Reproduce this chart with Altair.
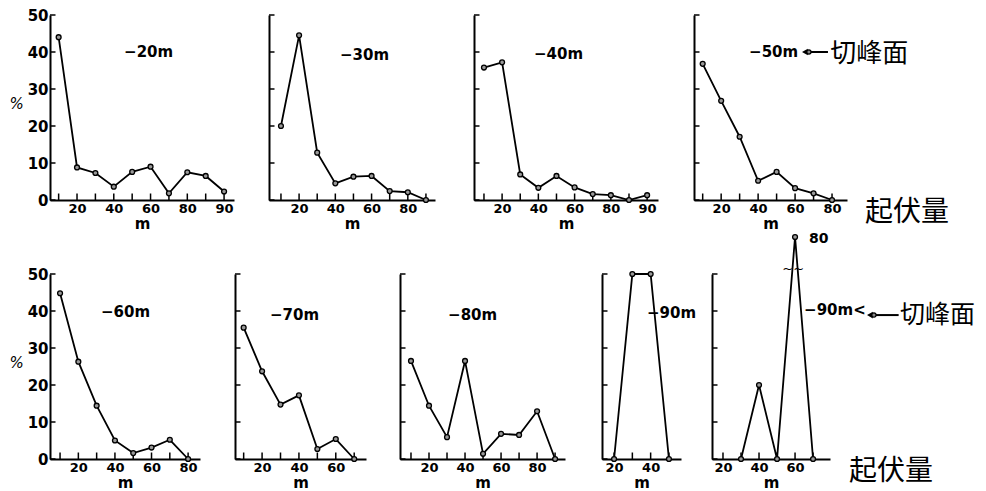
import altair as alt
import pandas as pd

# ---------------- data ----------------
titles = ["−20m", "−30m", "−40m", "−50m", "−60m", "−70m", "−80m", "−90m", "−90m<"]

x_20 = [10, 20, 30, 40, 50, 60, 70, 80, 90, 100]
p_20 = [44.0, 8.8, 7.3, 3.6, 7.6, 9.0, 1.8, 7.5, 6.5, 2.3]
x_30 = [10, 20, 30, 40, 50, 60, 70, 80, 90]
p_30 = [20.0, 44.5, 12.8, 4.5, 6.3, 6.5, 2.4, 2.1, 0.0]
x_40 = [10, 20, 30, 40, 50, 60, 70, 80, 90, 100]
p_40 = [35.8, 37.2, 6.9, 3.3, 6.5, 3.4, 1.6, 1.3, 0.0, 1.3]
x_50 = [10, 20, 30, 40, 50, 60, 70, 80]
p_50 = [36.8, 26.8, 17.1, 5.2, 7.6, 3.2, 1.8, 0.0]
x_60 = [10, 20, 30, 40, 50, 60, 70, 80]
p_60 = [44.8, 26.3, 14.4, 5.0, 1.6, 3.1, 5.2, 0.0]
x_70 = [10, 20, 30, 40, 50, 60, 70]
p_70 = [35.5, 23.7, 14.7, 17.2, 2.7, 5.4, 0.0]
x_80 = [10, 20, 30, 40, 50, 60, 70, 80, 90]
p_80 = [26.5, 14.4, 5.9, 26.5, 1.4, 6.8, 6.5, 12.9, 0.0]
x_90 = [20, 30, 40, 50]
p_90 = [0.0, 50.0, 50.0, 0.0]
x_90p = [30, 40, 50, 60, 70]
p_90p = [0.0, 20.0, 0.0, 80.0, 0.0]

y_ticks = [0, 10, 20, 30, 40, 50]

tick_20 = [10, 20, 30, 40, 50, 60, 70, 80, 90, 100]
tick_30 = [10, 20, 30, 40, 50, 60, 70, 80, 90]
tick_40 = [10, 20, 30, 40, 50, 60, 70, 80, 90, 100]
tick_50 = [10, 20, 30, 40, 50, 60, 70, 80]
tick_60 = [10, 20, 30, 40, 50, 60, 70, 80]
tick_70 = [10, 20, 30, 40, 50, 60, 70]
tick_80 = [10, 20, 30, 40, 50, 60, 70, 80, 90]
tick_90 = [20, 30, 40, 50]
tick_90p = [20, 30, 40, 50, 60, 70]

lab_v_20 = [20, 40, 60, 80, 100]; lab_t_20 = ["20", "40", "60", "80", "90"]
lab_v_30 = [20, 40, 60, 80];      lab_t_30 = ["20", "40", "60", "80"]
lab_v_40 = [20, 40, 60, 80, 100]; lab_t_40 = ["20", "40", "60", "80", "90"]
lab_v_50 = [20, 40, 60, 80];      lab_t_50 = ["20", "40", "60", "80"]
lab_v_60 = [20, 40, 60, 80];      lab_t_60 = ["20", "40", "60", "80"]
lab_v_70 = [20, 40, 60];          lab_t_70 = ["20", "40", "60"]
lab_v_80 = [20, 40, 60, 80];      lab_t_80 = ["20", "40", "60", "80"]
lab_v_90 = [20, 40];              lab_t_90 = ["20", "40"]
lab_v_90p = [20, 40, 60];         lab_t_90p = ["20", "40", "60"]

surface_label = "切峰面"
relief_label = "起伏量"
peak_label = "80"
break_mark = "~~"
x_title = "m"
y_title = "%"

# ---------------- styling / layout ----------------
FONT = "DejaVu Sans"
CJK = "Noto Sans CJK JP"
H = 185
YDOM = [0, 50]
BREAK_LEVEL = 60  # display level for values above the broken axis


def make_axes(lab_v, lab_t, show_y):
    expr = " : ".join(f"datum.value == {v} ? '{t}'" for v, t in zip(lab_v, lab_t)) + " : ''"
    xaxis = alt.Axis(
        values=lab_v, labelExpr=expr, ticks=False, tickSize=0, grid=False,
        domainColor="black", domainWidth=2,
        labelFont=FONT, labelFontSize=13, labelFontWeight="bold", labelColor="black", labelPadding=2,
        labelFlush=False, labelOverlap=False,
        title=x_title, titleFont=FONT, titleFontSize=15, titleFontWeight="bold",
        titleColor="black", titlePadding=1,
    )
    if show_y:
        yaxis = alt.Axis(
            values=y_ticks, ticks=False, tickSize=0, grid=False,
            domainColor="black", domainWidth=2,
            labelFont=FONT, labelFontSize=15, labelFontWeight="bold", labelColor="black", labelPadding=2,
            labelFlush=False, labelOverlap=False,
            title=y_title, titleAngle=0, titleX=-34, titleY=88, titleAlign="center",
            titleBaseline="middle", titleFont=FONT, titleFontSize=15,
            titleFontWeight="normal", titleFontStyle="italic", titleColor="black",
        )
    else:
        yaxis = alt.Axis(
            values=y_ticks, ticks=False, tickSize=0, grid=False, labels=False,
            labelOverlap=False, domainColor="black", domainWidth=2, title="",
        )
    return xaxis, yaxis


def text_layer(txt, x, y, xsc, ysc, ax, font=FONT, size=16, align="left", baseline="middle",
               weight="normal"):
    xaxis, yaxis = ax
    return alt.Chart(pd.DataFrame({"t": [txt]})).mark_text(
        align=align, baseline=baseline, font=font, fontSize=size, color="black", fontWeight=weight
    ).encode(
        x=alt.XDatum(x, scale=xsc, axis=xaxis),
        y=alt.YDatum(y, scale=ysc, axis=yaxis),
        text=alt.Text("t:N"),
    )


def arrow_layers(x_head, x_tail, y, xsc, ysc, ax, ppu):
    xaxis, yaxis = ax
    one = pd.DataFrame({"a": [0]})
    line = alt.Chart(one).mark_rule(color="black", strokeWidth=2).encode(
        x=alt.XDatum(x_head + 2 / ppu, scale=xsc, axis=xaxis),
        x2=alt.X2Datum(x_tail),
        y=alt.YDatum(y, scale=ysc, axis=yaxis),
    )
    head = alt.Chart(one).mark_point(
        shape="triangle-left", filled=True, color="black", size=45, opacity=1
    ).encode(
        x=alt.XDatum(x_head + 3 / ppu, scale=xsc, axis=xaxis),
        y=alt.YDatum(y, scale=ysc, axis=yaxis),
    )
    dot = alt.Chart(one).mark_circle(
        size=18, color="#888888", stroke="black", strokeWidth=1.2, opacity=1
    ).encode(
        x=alt.XDatum(x_head + 7 / ppu, scale=xsc, axis=xaxis),
        y=alt.YDatum(y, scale=ysc, axis=yaxis),
    )
    return [line, head, dot]


def panel(xs, ps, xdom, width, ticks, lab_v, lab_t, show_y, title, tx, ty, extras=None):
    ppu = width / (xdom[1] - xdom[0])
    ypu = H / (YDOM[1] - YDOM[0])
    xsc = alt.Scale(domain=xdom, nice=False, zero=False)
    ysc = alt.Scale(domain=YDOM, nice=False, zero=False)
    ax = make_axes(lab_v, lab_t, show_y)
    xaxis, yaxis = ax
    disp = [p if p <= YDOM[1] else BREAK_LEVEL for p in ps]
    df = pd.DataFrame({"x": xs, "y": disp, "p": ps})

    base = alt.Chart(df)
    line = base.mark_line(color="black", strokeWidth=1.8).encode(
        x=alt.X("x:Q", scale=xsc, axis=xaxis),
        y=alt.Y("y:Q", scale=ysc, axis=yaxis),
    )
    pts = base.mark_circle(size=24, color="#999999", stroke="black", strokeWidth=1.3, opacity=1).encode(
        x=alt.X("x:Q", scale=xsc, axis=xaxis),
        y=alt.Y("y:Q", scale=ysc, axis=yaxis),
    )
    xt = alt.Chart(pd.DataFrame({"x": ticks})).mark_rule(color="black", strokeWidth=1.5).encode(
        x=alt.X("x:Q", scale=xsc, axis=xaxis),
        y=alt.YDatum(0, scale=ysc, axis=yaxis),
        y2=alt.Y2Datum(6.5 / ypu),
    )
    yt = alt.Chart(pd.DataFrame({"y": y_ticks})).mark_rule(color="black", strokeWidth=1.5).encode(
        y=alt.Y("y:Q", scale=ysc, axis=yaxis),
        x=alt.XDatum(xdom[0], scale=xsc, axis=xaxis),
        x2=alt.X2Datum(xdom[0] + 5.5 / ppu),
    )
    ttl = text_layer(title, tx, ty, xsc, ysc, ax, size=15, weight="bold")
    layers = [line, xt, yt, pts, ttl]
    if extras:
        layers += extras(xsc, ysc, ax, ppu)
    return alt.layer(*layers).properties(width=width, height=H)


def extras_50(xsc, ysc, ax, ppu):
    out = arrow_layers(63.7, 77.8, 40, xsc, ysc, ax, ppu)
    out.append(text_layer(surface_label, 79.0, 39.4, xsc, ysc, ax, font=CJK, size=26))
    out.append(text_layer(relief_label, 97.8, -3.6, xsc, ysc, ax, font=CJK, size=28))
    return out


def extras_90p(xsc, ysc, ax, ppu):
    out = arrow_layers(99.9, 117.5, 38.9, xsc, ysc, ax, ppu)
    out.append(text_layer(surface_label, 118.3, 38.9, xsc, ysc, ax, font=CJK, size=25))
    out.append(text_layer(relief_label, 89.9, -3.4, xsc, ysc, ax, font=CJK, size=28))
    out.append(text_layer(peak_label, 67.7, 59.4, xsc, ysc, ax, size=14, weight="bold"))
    out.append(text_layer(break_mark, 59.0, 51.3, xsc, ysc, ax, size=13, align="center"))
    return out


def spacer(w):
    return alt.Chart(pd.DataFrame({"a": [0]})).mark_point(opacity=0).encode(
        x=alt.value(0), y=alt.value(0)
    ).properties(width=w, height=H)


P1 = panel(x_20, p_20, [5.3, 105.4], 184, tick_20, lab_v_20, lab_t_20, True, titles[0], 45.6, 40.0)
P2 = panel(x_30, p_30, [3.4, 95.0], 166, tick_30, lab_v_30, lab_t_30, False, titles[1], 42.6, 39.2)
P3 = panel(x_40, p_40, [4.5, 106.0], 184, tick_40, lab_v_40, lab_t_40, False, titles[2], 37.6, 39.5)
P4 = panel(x_50, p_50, [5.3, 88.1], 153, tick_50, lab_v_50, lab_t_50, False, titles[3], 35.1, 40.0, extras_50)
P5 = panel(x_60, p_60, [4.5, 86.5], 150, tick_60, lab_v_60, lab_t_60, True, titles[4], 32.4, 39.7)
P6 = panel(x_70, p_70, [5.3, 76.4], 131, tick_70, lab_v_70, lab_t_70, False, titles[5], 24.3, 38.9)
P7 = panel(x_80, p_80, [3.9, 95.5], 165, tick_80, lab_v_80, lab_t_80, False, titles[6], 30.6, 38.9)
P8 = panel(x_90, p_90, [13.4, 56.6], 79, tick_90, lab_v_90, lab_t_90, False, titles[7], 38.0, 39.5)
P9 = panel(x_90p, p_90p, [13.9, 79.4], 118, tick_90p, lab_v_90p, lab_t_90p, False, titles[8], 65.0, 40.3, extras_90p)

row1 = alt.hconcat(P1, spacer(35), P2, spacer(39), P3, spacer(36), P4, spacing=0, bounds="flush")
row2 = alt.hconcat(P5, spacer(35), P6, spacer(34), P7, spacer(37), P8, spacer(31), P9, spacing=0, bounds="flush")

chart = alt.vconcat(row1, row2, spacing=0).properties(
    padding=0, background="white"
).configure_view(strokeWidth=0).configure_axis(labelOverlap=False, labelFlush=False)

chart.save("out.html", embed_options={"renderer": "svg", "actions": False})
